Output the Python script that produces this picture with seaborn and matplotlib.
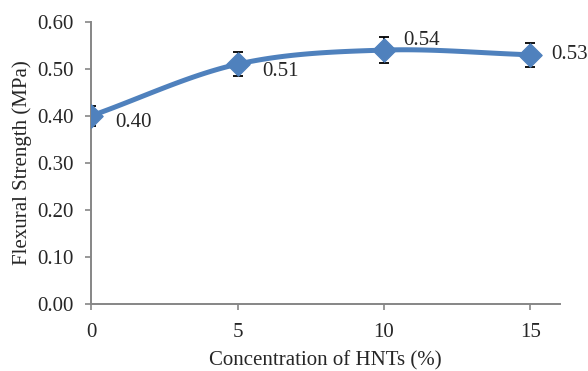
import numpy as np
import pandas as pd
import matplotlib
matplotlib.use('Agg')
import matplotlib.pyplot as plt
import seaborn as sns

concentration = [0, 5, 10, 15]
strength = [0.40, 0.51, 0.54, 0.53]
error = [0.021, 0.025, 0.027, 0.026]
labels = ['0.40', '0.51', '0.54', '0.53']

sns.set_style('white')
plt.rcParams['font.family'] = ['Liberation Serif', 'DejaVu Serif']

BLUE = '#4F81BD'
GREY = '#868686'
FS = 15


def smooth(x, y, n=40):
    # catmull-rom through the points, like excel's smoothed line
    x = np.asarray(x, float)
    y = np.asarray(y, float)
    px = np.concatenate([[2 * x[0] - x[1]], x, [2 * x[-1] - x[-2]]])
    py = np.concatenate([[2 * y[0] - y[1]], y, [2 * y[-1] - y[-2]]])
    xs, ys = [], []
    t = np.linspace(0, 1, n)
    for i in range(1, len(px) - 2):
        for p, out in ((px, xs), (py, ys)):
            p0, p1, p2, p3 = p[i - 1], p[i], p[i + 1], p[i + 2]
            out.extend(0.5 * ((2 * p1) + (-p0 + p2) * t
                              + (2 * p0 - 5 * p1 + 4 * p2 - p3) * t ** 2
                              + (-p0 + 3 * p1 - 3 * p2 + p3) * t ** 3))
    return np.array(xs), np.array(ys)


df = pd.DataFrame({'conc': concentration, 'strength': strength, 'err': error})
sx, sy = smooth(concentration, strength)
curve = pd.DataFrame({'conc': sx, 'strength': sy})

fig = plt.figure(figsize=(5.88, 3.71), dpi=100)
ax = fig.add_axes([0.155, 0.181, 0.797, 0.76])

ax.errorbar(df['conc'], df['strength'], yerr=df['err'], fmt='none',
            ecolor='black', elinewidth=1.3, capsize=3.8, capthick=1.3, zorder=2)
sns.lineplot(data=curve, x='conc', y='strength', color=BLUE, lw=3.6,
             sort=False, ax=ax, zorder=3)
sns.scatterplot(data=df, x='conc', y='strength', marker='D', s=140,
                color=BLUE, edgecolor=BLUE, ax=ax, zorder=4)

offsets = [(17, -5), (18, -5.5), (14, 7), (15, 0)]
for x, y, lab, off in zip(concentration, strength, labels, offsets):
    ax.annotate(lab, (x, y), xytext=off, textcoords='offset points',
                ha='left', va='center', fontsize=FS)

ax.set_xlim(0, 16)
ax.set_ylim(0, 0.6)
ax.set_xticks([0, 5, 10, 15])
ax.set_yticks(np.arange(0, 0.61, 0.1))
ax.set_yticklabels([f'{v:.2f}' for v in np.arange(0, 0.61, 0.1)])
ax.tick_params(axis='both', labelsize=FS, length=4.5, width=1.2, color=GREY,
               direction='out', left=True, bottom=True)
ax.tick_params(axis='x', pad=9)
ax.tick_params(axis='y', pad=8)

for s in ['top', 'right']:
    ax.spines[s].set_visible(False)
for s in ['left', 'bottom']:
    ax.spines[s].set_color(GREY)
    ax.spines[s].set_linewidth(1.4)

ax.set_xlabel('Concentration of HNTs (%)', fontsize=FS, labelpad=6.5)
ax.set_ylabel('Flexural Strength (MPa)', fontsize=FS, labelpad=4)

fig.savefig('out.png', dpi=100)
